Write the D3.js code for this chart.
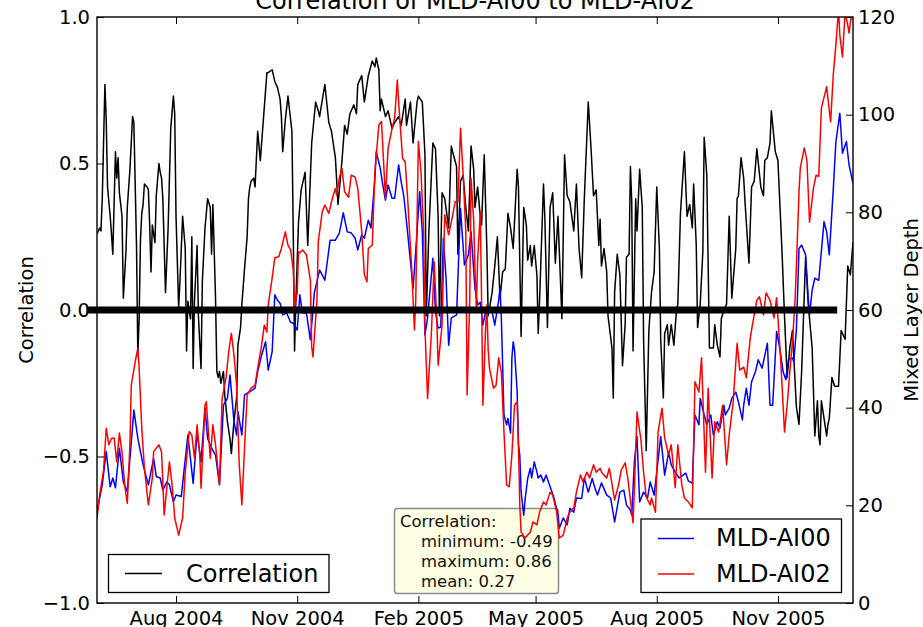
<!DOCTYPE html>
<html>
<head>
<meta charset="utf-8">
<script src="https://cdn.jsdelivr.net/npm/d3@7"></script>
<style>
  html, body { margin: 0; padding: 0; background: #fff; }
  svg { display: block; font-family: "DejaVu Sans", sans-serif; }
</style>
</head>
<body>
<svg id="chart" width="923" height="627"></svg>
<script>
// Daily series, keyed by day offset from the first day of the record.
const startDate = new Date(Date.UTC(2004, 5, 2));
const endDate = new Date(Date.UTC(2005, 11, 28));

// Running correlation between the two mixed layer depth records.
const correlation = [[0,0.26],[2,0.28],[3,0.27],[4,0.38],[6,0.77],[7,0.65],[8,0.42],[10,0.32],[11,0.26],[12,0.19],[14,0.54],[15,0.45],[16,0.52],[17,0.40],[19,0.32],[20,0.04],[22,0.20],[23,0.35],[25,0.48],[27,0.66],[28,0.64],[30,0.22],[31,-0.15],[32,-0.03],[33,0.24],[34,0.33],[35,0.36],[36,0.43],[38,0.42],[39,0.41],[40,0.29],[41,0.13],[42,0.29],[44,0.23],[45,0.39],[47,0.50],[48,0.47],[49,0.45],[50,0.38],[52,0.06],[54,0.28],[56,0.62],[58,0.73],[59,0.67],[60,0.32],[62,0.01],[63,0.10],[65,0.32],[67,0.21],[68,-0.14],[69,0.03],[71,-0.03],[72,0.25],[73,-0.20],[74,0.03],[76,0.22],[77,-0.02],[79,-0.20],[80,0.10],[82,0.28],[84,0.38],[86,0.35],[87,0.19],[88,0.36],[90,0.04],[91,-0.21],[92,-0.23],[93,-0.21],[94,-0.25],[96,-0.21],[97,-0.29],[99,-0.38],[101,-0.44],[102,-0.49],[104,-0.38],[106,-0.30],[107,-0.12],[109,-0.06],[110,0.02],[112,0.14],[114,0.25],[115,0.38],[116,0.42],[117,0.44],[119,0.45],[120,0.42],[122,0.61],[124,0.51],[126,0.63],[129,0.81],[130,0.81],[133,0.82],[135,0.78],[137,0.76],[139,0.72],[140,0.66],[141,0.54],[143,0.65],[145,0.73],[148,0.61],[149,0.27],[150,-0.14],[151,0.03],[153,0.30],[155,0.41],[158,0.47],[160,0.22],[163,0.57],[166,0.71],[168,0.68],[169,0.66],[173,0.77],[176,0.64],[178,0.61],[181,0.52],[183,0.36],[186,0.51],[188,0.63],[190,0.60],[192,0.67],[195,0.70],[197,0.67],[198,0.77],[201,0.80],[203,0.71],[206,0.80],[209,0.85],[211,0.83],[212,0.86],[214,0.82],[215,0.68],[216,0.72],[219,0.66],[221,0.68],[224,0.62],[226,0.64],[229,0.66],[231,0.63],[234,0.72],[235,0.63],[238,0.71],[240,0.57],[243,0.71],[244,0.73],[247,0.71],[249,0.53],[250,-0.02],[252,0.27],[255,0.57],[257,0.55],[259,0.32],[260,-0.02],[262,0.40],[264,0.38],[267,0.28],[269,0.56],[270,0.54],[273,0.49],[274,0.19],[276,0.44],[278,0.46],[280,0.35],[282,0.27],[284,0.56],[286,0.48],[287,0.35],[289,0.42],[291,0.32],[292,0.29],[294,0.53],[296,0.21],[297,-0.02],[300,0.06],[302,0.15],[304,0.25],[306,0.04],[308,0.13],[310,0.14],[312,0.33],[314,0.28],[316,0.21],[319,0.48],[320,0.42],[322,-0.09],[324,0.35],[326,0.29],[327,0.17],[329,0.22],[330,0.15],[332,0.22],[334,0.12],[335,-0.08],[336,0.03],[339,0.43],[340,0.32],[342,-0.06],[344,0.35],[346,0.40],[348,0.16],[350,0.32],[353,-0.03],[355,0.53],[357,0.39],[359,0.37],[362,0.27],[364,0.43],[366,0.21],[368,0.11],[370,0.38],[373,0.71],[375,0.56],[377,0.39],[379,0.41],[381,0.22],[382,0.31],[383,0.15],[385,0.21],[387,0.13],[388,-0.02],[391,-0.13],[392,-0.30],[393,0.06],[395,0.19],[397,0.12],[399,-0.19],[401,-0.05],[402,0.18],[404,0.19],[405,0.49],[406,0.37],[407,-0.14],[409,0.38],[410,0.27],[412,0.48],[414,0.35],[415,-0.10],[417,-0.48],[419,-0.07],[421,0.06],[423,0.13],[425,0.42],[427,0.21],[428,-0.10],[430,-0.30],[431,-0.08],[433,-0.05],[434,-0.12],[436,-0.05],[438,-0.12],[440,0.00],[441,0.02],[443,0.33],[446,0.54],[448,0.32],[450,0.36],[452,0.28],[453,0.43],[455,0.22],[456,-0.06],[458,0.02],[460,0.20],[461,0.59],[463,0.46],[465,-0.13],[468,-0.13],[469,-0.05],[471,-0.12],[473,-0.16],[474,-0.03],[476,0.00],[478,0.02],[480,0.32],[482,0.04],[485,0.21],[486,0.38],[487,0.39],[489,0.52],[491,0.45],[492,0.37],[495,0.16],[497,0.42],[499,0.44],[501,0.55],[504,0.42],[506,0.39],[507,0.51],[509,0.52],[511,0.57],[512,0.68],[515,0.54],[517,0.51],[520,0.21],[522,-0.02],[524,-0.23],[526,-0.13],[528,-0.07],[531,-0.33],[533,-0.39],[535,-0.21],[538,0.18],[540,0.02],[543,-0.13],[545,-0.43],[547,-0.31],[548,-0.43],[549,-0.46],[550,-0.31],[552,-0.37],[554,-0.43],[555,-0.39],[556,-0.37],[558,-0.23],[560,-0.26],[563,-0.26],[565,-0.07],[568,-0.10],[570,0.15],[572,0.12],[574,0.23]];

// Mixed layer depth at AI00.
const mldAI00 = [[0,18.7],[4,24.2],[7,31.0],[10,23.8],[12,25.6],[14,23.6],[17,31.7],[20,24.8],[23,22.8],[28,39.5],[31,33.7],[35,28.3],[39,24.2],[43,29.6],[45,25.9],[48,25.6],[50,23.1],[53,24.8],[55,24.2],[58,20.7],[60,22.1],[64,21.8],[66,26.9],[69,34.4],[73,24.5],[76,34.8],[79,28.9],[82,39.9],[84,33.7],[87,31.7],[90,30.3],[93,24.2],[96,40.5],[99,41.9],[101,46.7],[104,37.1],[106,34.4],[107,39.2],[110,34.4],[112,42.6],[116,43.3],[120,44.0],[122,47.4],[125,50.8],[128,53.5],[130,47.7],[133,51.5],[135,63.1],[137,62.0],[139,61.4],[141,59.0],[144,59.4],[147,57.5],[149,57.3],[152,55.9],[154,63.1],[156,59.4],[159,59.4],[162,53.9],[164,60.0],[165,63.5],[169,68.2],[173,66.1],[177,74.3],[181,74.3],[184,75.8],[187,79.9],[190,76.0],[193,75.8],[196,74.7],[198,72.3],[201,75.4],[203,74.7],[206,78.4],[208,76.8],[211,87.0],[212,92.4],[215,89.1],[217,85.6],[219,82.5],[221,85.6],[224,82.9],[226,82.9],[229,89.7],[231,86.2],[233,83.2],[235,78.1],[238,69.9],[240,64.4],[243,76.0],[245,84.2],[247,76.0],[249,54.9],[251,58.4],[255,70.6],[257,59.6],[259,56.3],[261,56.5],[263,74.7],[265,66.6],[267,52.8],[269,58.4],[273,59.0],[276,80.8],[277,76.8],[279,69.2],[282,71.3],[284,76.0],[287,64.4],[289,61.0],[291,61.6],[293,56.9],[295,59.6],[297,59.6],[300,59.6],[302,56.9],[305,62.0],[306,64.5],[307,58.4],[309,38.5],[311,36.5],[312,37.8],[314,34.8],[315,50.1],[316,53.5],[317,51.8],[319,43.3],[320,32.4],[321,30.3],[322,22.8],[324,18.0],[325,21.1],[327,25.5],[329,27.6],[330,25.6],[332,28.9],[334,26.8],[335,25.6],[337,26.2],[339,24.8],[341,26.2],[343,24.6],[345,23.1],[347,21.5],[350,18.0],[351,15.3],[354,17.4],[357,16.0],[359,19.4],[362,18.6],[364,21.5],[368,21.4],[370,25.6],[373,22.7],[376,25.5],[378,23.6],[380,22.1],[383,24.6],[387,22.1],[390,21.5],[393,16.6],[397,22.7],[400,23.1],[402,20.1],[405,19.0],[406,18.0],[408,28.9],[410,34.1],[412,20.7],[415,22.7],[418,21.5],[420,24.8],[423,22.1],[425,26.8],[428,34.1],[430,28.9],[431,26.2],[434,30.9],[436,28.3],[439,26.8],[442,25.6],[445,26.2],[447,26.6],[449,25.0],[452,24.5],[454,38.5],[457,36.5],[458,41.9],[461,38.5],[463,36.5],[466,38.5],[468,34.4],[471,37.1],[473,35.8],[476,40.5],[477,38.5],[480,39.9],[482,41.9],[485,43.2],[487,41.2],[490,37.5],[491,40.5],[493,44.0],[495,40.5],[497,45.3],[500,47.4],[502,49.8],[505,48.1],[509,53.2],[511,40.5],[513,40.5],[516,55.6],[518,52.8],[521,47.3],[523,45.7],[525,49.8],[528,50.2],[529,49.4],[531,55.9],[532,64.1],[533,72.6],[535,73.3],[538,71.3],[540,62.4],[541,59.0],[543,64.1],[545,66.5],[548,66.1],[552,78.1],[554,76.0],[556,71.3],[559,84.6],[561,94.4],[564,100.3],[566,92.1],[569,94.5],[571,89.7],[574,85.9]];

// Mixed layer depth at AI02.
const mldAI02 = [[0,17.3],[2,22.1],[5,27.2],[7,35.8],[9,32.4],[11,33.7],[13,33.8],[15,28.9],[17,34.8],[19,30.9],[21,24.2],[23,20.4],[25,32.4],[26,44.6],[29,49.4],[31,52.2],[32,48.1],[34,35.8],[36,27.6],[39,20.1],[42,25.6],[43,31.0],[47,32.4],[49,30.9],[51,18.0],[53,23.6],[55,28.9],[57,24.2],[59,17.4],[62,13.9],[65,17.4],[67,26.8],[70,35.1],[72,34.4],[74,29.7],[76,36.5],[78,30.3],[79,23.5],[82,40.5],[83,41.2],[86,29.6],[88,36.5],[90,32.4],[93,24.2],[95,41.9],[98,46.1],[100,51.5],[102,55.2],[104,50.8],[106,44.6],[108,28.3],[110,20.1],[112,31.7],[114,42.6],[117,44.0],[120,44.6],[122,48.1],[125,52.8],[127,56.9],[129,55.5],[130,61.0],[133,66.6],[135,70.7],[138,70.9],[140,72.6],[143,76.0],[145,73.3],[147,72.3],[149,68.2],[150,60.4],[152,63.5],[153,71.9],[154,71.7],[156,72.3],[159,71.3],[162,66.1],[163,52.5],[164,50.4],[167,62.0],[168,74.0],[171,80.1],[173,81.5],[176,79.8],[179,83.2],[181,84.9],[182,83.5],[184,87.0],[186,89.0],[188,84.2],[191,83.1],[193,87.6],[196,87.2],[198,84.9],[201,76.0],[203,67.2],[205,65.8],[206,72.6],[209,73.3],[211,88.3],[214,97.9],[216,98.6],[219,82.9],[221,93.1],[224,97.2],[226,99.3],[228,107.1],[230,98.6],[232,91.1],[234,90.3],[236,82.2],[238,72.7],[239,68.2],[241,55.9],[242,62.0],[244,94.5],[246,88.3],[248,76.0],[249,56.3],[251,41.9],[254,55.9],[256,69.9],[258,58.0],[259,48.7],[262,56.9],[264,79.5],[267,75.4],[269,78.0],[272,82.2],[274,82.1],[276,97.2],[278,87.6],[280,76.4],[281,42.6],[283,62.0],[284,87.0],[286,78.4],[287,68.2],[288,60.4],[289,70.2],[291,80.1],[292,62.0],[293,40.5],[295,55.9],[296,61.0],[297,51.8],[298,48.1],[301,44.0],[303,44.6],[305,50.2],[307,47.3],[309,35.0],[311,24.2],[313,23.8],[315,30.3],[317,40.5],[319,41.2],[320,32.4],[321,20.1],[322,14.5],[325,13.3],[327,13.9],[329,14.5],[331,16.6],[334,16.0],[336,18.6],[339,20.7],[341,20.1],[344,22.7],[346,22.1],[349,18.6],[351,13.3],[354,13.9],[357,17.4],[359,18.6],[362,19.5],[364,22.7],[367,26.2],[369,24.8],[372,26.8],[374,25.6],[377,28.3],[379,26.8],[382,27.6],[383,26.8],[387,25.6],[389,27.6],[393,21.1],[396,24.2],[398,27.2],[401,28.7],[403,25.6],[407,16.4],[408,23.1],[410,39.1],[413,33.4],[415,26.8],[417,21.7],[420,20.1],[421,21.5],[424,18.6],[426,35.0],[429,39.9],[431,33.8],[434,30.3],[436,32.4],[439,23.6],[441,32.4],[444,24.2],[446,21.5],[449,20.7],[452,19.5],[454,45.3],[457,43.2],[459,50.2],[462,26.8],[464,44.0],[467,25.6],[469,37.1],[472,35.0],[475,40.5],[478,28.3],[480,34.4],[483,41.2],[486,53.2],[488,47.7],[491,48.3],[493,46.1],[496,54.3],[498,57.5],[501,62.0],[503,62.7],[506,59.0],[508,63.5],[511,62.0],[514,58.4],[516,62.5],[519,50.2],[522,35.0],[524,40.5],[526,47.3],[528,53.4],[530,62.0],[531,68.8],[533,84.2],[534,89.1],[537,93.2],[539,90.7],[541,78.0],[544,85.0],[546,87.6],[548,87.4],[550,101.4],[554,105.7],[557,98.5],[559,108.1],[561,114.3],[563,121.5],[564,116.3],[566,111.8],[568,121.0],[570,118.4],[571,116.7],[573,121.0],[574,119.4]];

// Axis ticks and annotation text.
const corrTicks = [-1, -0.5, 0, 0.5, 1];
const depthTicks = [0, 20, 40, 60, 80, 100, 120];
const monthTicks = ["2004-08-01", "2004-11-01", "2005-02-01", "2005-05-01", "2005-08-01", "2005-11-01"];
const statLabels = ["minimum", "maximum", "mean"];
const statValues = [-0.49, 0.86, 0.27];
// Zero-correlation reference bar, in day offsets.
const zeroBarDays = [-8, 562];

const plot = { left: 97, right: 853, top: 17, bottom: 603 };
const dayMs = 864e5;
const toDate = d => new Date(startDate.getTime() + d * dayMs);
const FONT = '"DejaVu Sans", sans-serif';

const svg = d3.select("#chart");

const x = d3.scaleUtc().domain([startDate, endDate]).range([plot.left, plot.right]);
const yCorr = d3.scaleLinear().domain([-1, 1]).range([plot.bottom, plot.top]);
const yDepth = d3.scaleLinear().domain([0, 120]).range([plot.bottom, plot.top]);

svg.append("defs").append("clipPath").attr("id", "plotClip")
  .append("rect")
  .attr("x", plot.left).attr("y", plot.top)
  .attr("width", plot.right - plot.left).attr("height", plot.bottom - plot.top);

// Title (sits partly above the window's top edge)
svg.append("text")
  .attr("x", (plot.left + plot.right) / 2).attr("y", 9)
  .attr("text-anchor", "middle")
  .attr("font-family", FONT).attr("font-size", 24).attr("fill", "#000")
  .text("Correlation of MLD-AI00 to MLD-AI02");

const lineFor = yScale => d3.line()
  .x(d => x(toDate(d[0])))
  .y(d => yScale(d[1]));

// Correlation (left axis)
svg.append("path")
  .datum(correlation)
  .attr("clip-path", "url(#plotClip)")
  .attr("fill", "none").attr("stroke", "#000").attr("stroke-width", 1.5)
  .attr("stroke-linejoin", "round")
  .attr("d", lineFor(yCorr));

// Statistics box
const stats = svg.append("g");
stats.append("rect")
  .attr("x", 394.5).attr("y", 508.5).attr("width", 164).attr("height", 85)
  .attr("rx", 3).attr("ry", 3)
  .attr("fill", "#ffffe4").attr("stroke", "#8a8a8a").attr("stroke-width", 1.5);
stats.append("text")
  .attr("x", 400).attr("y", 526.5)
  .attr("font-family", FONT).attr("font-size", 16.5).attr("fill", "#111")
  .text("Correlation:");
statLabels.forEach((name, i) => {
  stats.append("text")
    .attr("x", 421).attr("y", 546.5 + i * 20)
    .attr("font-family", FONT).attr("font-size", 16.5).attr("fill", "#111")
    .text(`${name}: ${statValues[i].toFixed(2)}`);
});

// Legend for the correlation line
const leg1 = svg.append("g");
leg1.append("rect")
  .attr("x", 108.5).attr("y", 554.5).attr("width", 220.5).attr("height", 38)
  .attr("fill", "#fff").attr("stroke", "#000").attr("stroke-width", 1.3);
leg1.append("line")
  .attr("x1", 125).attr("x2", 162).attr("y1", 573.5).attr("y2", 573.5)
  .attr("stroke", "#000").attr("stroke-width", 1.5);
leg1.append("text")
  .attr("x", 186).attr("y", 582.3)
  .attr("font-family", FONT).attr("font-size", 24).attr("fill", "#000")
  .text("Correlation");

// Mixed layer depths (right axis)
svg.append("path")
  .datum(mldAI00)
  .attr("clip-path", "url(#plotClip)")
  .attr("fill", "none").attr("stroke", "#0000ff").attr("stroke-width", 1.5)
  .attr("stroke-linejoin", "round")
  .attr("d", lineFor(yDepth));
svg.append("path")
  .datum(mldAI02)
  .attr("clip-path", "url(#plotClip)")
  .attr("fill", "none").attr("stroke", "#ff0000").attr("stroke-width", 1.5)
  .attr("stroke-linejoin", "round")
  .attr("d", lineFor(yDepth));

// Frame
svg.append("rect")
  .attr("x", plot.left).attr("y", plot.top)
  .attr("width", plot.right - plot.left).attr("height", plot.bottom - plot.top)
  .attr("fill", "none").attr("stroke", "#000").attr("stroke-width", 1.4);

function styleAxis(g, size) {
  g.select(".domain").remove();
  g.selectAll(".tick line").attr("stroke", "#000").attr("stroke-width", 1);
  g.selectAll(".tick text")
    .attr("font-family", FONT).attr("font-size", size).attr("fill", "#000");
}

const tickDates = monthTicks.map(s => new Date(s + "T00:00:00Z"));

svg.append("g")
  .attr("transform", `translate(${plot.left},0)`)
  .call(d3.axisLeft(yCorr).tickValues(corrTicks).tickSize(-7).tickPadding(7).tickFormat(d3.format(".1f")))
  .call(g => styleAxis(g, 19.5));

svg.append("g")
  .attr("transform", `translate(${plot.right},0)`)
  .call(d3.axisRight(yDepth).tickValues(depthTicks).tickSize(-7).tickPadding(5).tickFormat(d3.format("d")))
  .call(g => styleAxis(g, 19.5));

svg.append("g")
  .attr("transform", `translate(0,${plot.bottom})`)
  .call(d3.axisBottom(x).tickValues(tickDates).tickSize(-7).tickPadding(8).tickFormat(d3.utcFormat("%b %Y")))
  .call(g => styleAxis(g, 19.5));

svg.append("g")
  .attr("transform", `translate(0,${plot.top})`)
  .call(d3.axisTop(x).tickValues(tickDates).tickSize(-7).tickFormat(""))
  .call(g => styleAxis(g, 19.5));

// Axis titles
svg.append("text")
  .attr("transform", `translate(33,${(plot.top + plot.bottom) / 2}) rotate(-90)`)
  .attr("text-anchor", "middle")
  .attr("font-family", FONT).attr("font-size", 19.5).attr("fill", "#000")
  .text("Correlation");
svg.append("text")
  .attr("transform", `translate(918,${(plot.top + plot.bottom) / 2}) rotate(-90)`)
  .attr("text-anchor", "middle")
  .attr("font-family", FONT).attr("font-size", 19.5).attr("fill", "#000")
  .text("Mixed Layer Depth");

// Zero-correlation bar
svg.append("line")
  .attr("x1", x(toDate(zeroBarDays[0]))).attr("x2", x(toDate(zeroBarDays[1])))
  .attr("y1", yCorr(0)).attr("y2", yCorr(0))
  .attr("stroke", "#000").attr("stroke-width", 7);

// Legend for the depth lines
const leg2 = svg.append("g");
leg2.append("rect")
  .attr("x", 641).attr("y", 519).attr("width", 200.5).attr("height", 73.5)
  .attr("fill", "#fff").attr("stroke", "#000").attr("stroke-width", 1.3);
[["MLD-AI00", "#0000ff", 538.5, 546], ["MLD-AI02", "#ff0000", 574, 581.7]].forEach(([name, color, ly, ty]) => {
  leg2.append("line")
    .attr("x1", 658).attr("x2", 694).attr("y1", ly).attr("y2", ly)
    .attr("stroke", color).attr("stroke-width", 1.5);
  leg2.append("text")
    .attr("x", 716).attr("y", ty)
    .attr("font-family", FONT).attr("font-size", 24).attr("fill", "#000")
    .text(name);
});
</script>
</body>
</html>
